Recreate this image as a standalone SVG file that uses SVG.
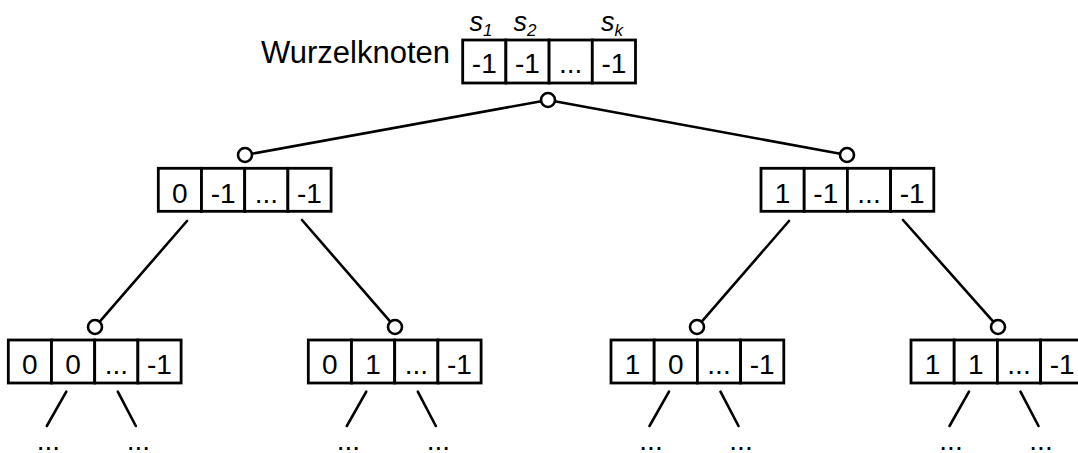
<svg xmlns="http://www.w3.org/2000/svg" width="1078" height="453" viewBox="0 0 1078 453">
  <style>
    .cell { fill: #ffffff; stroke: #000000; stroke-width: 2.8; }
    .val { font-family: "Liberation Sans", Arial, sans-serif; font-size: 28px; fill: #000000; text-anchor: middle; }
    .lbl { font-family: "Liberation Sans", Arial, sans-serif; font-size: 31px; fill: #000000; text-anchor: end; }
    .idx { font-family: "Liberation Sans", Arial, sans-serif; font-size: 27px; font-style: italic; fill: #000000; text-anchor: middle; }
    .sub { font-size: 17px; }
    .edge { stroke: #000000; stroke-width: 2.6; fill: none; stroke-linecap: round; }
    .knob { fill: #ffffff; stroke: #000000; stroke-width: 2.6; }
  </style>
  <defs>
    <!-- four-cell vector: width 172.8, height 43 -->
    <g id="vec">
      <rect class="cell" x="0" y="0" width="43.2" height="43"/>
      <rect class="cell" x="43.2" y="0" width="43.2" height="43"/>
      <rect class="cell" x="86.4" y="0" width="43.2" height="43"/>
      <rect class="cell" x="129.6" y="0" width="43.2" height="43"/>
    </g>
    <!-- two stubs leading further down with ellipses -->
    <g id="more">
      <line class="edge" x1="58" y1="391.7" x2="38.5" y2="426"/>
      <line class="edge" x1="109.5" y1="391.7" x2="127.5" y2="426"/>
      <text class="val" x="40" y="450">...</text>
      <text class="val" x="130" y="450">...</text>
    </g>
  </defs>

  <!-- connectors -->
  <g id="connectors">
    <line class="edge" x1="541.3" y1="101.2" x2="251.7" y2="153.8"/>
    <line class="edge" x1="554.7" y1="101.2" x2="840.3" y2="153.8"/>
    <line class="edge" x1="187" y1="221" x2="99.5" y2="321.9"/>
    <line class="edge" x1="302" y1="220" x2="390.5" y2="321.9"/>
    <line class="edge" x1="789" y1="221" x2="701.5" y2="321.9"/>
    <line class="edge" x1="903" y1="220" x2="993.5" y2="321.9"/>
    <use href="#more" x="8.3"/>
    <use href="#more" x="308.3"/>
    <use href="#more" x="611"/>
    <use href="#more" x="911"/>
  </g>

  <!-- root -->
  <g id="root">
    <text class="lbl" x="450" y="63">Wurzelknoten</text>
    <text class="idx" x="481" y="31">s<tspan class="sub" dy="5">1</tspan></text>
    <text class="idx" x="525" y="31">s<tspan class="sub" dy="5">2</tspan></text>
    <text class="idx" x="612" y="31">s<tspan class="sub" dy="5">k</tspan></text>
    <use href="#vec" x="462.7" y="40"/>
    <text class="val" x="484.3" y="73">-1</text>
    <text class="val" x="527.5" y="73">-1</text>
    <text class="val" x="570.7" y="73">...</text>
    <text class="val" x="613.9" y="73">-1</text>
    <circle class="knob" cx="548" cy="100" r="7"/>
  </g>

  <!-- level 1 -->
  <g id="n0">
    <circle class="knob" cx="245" cy="155" r="7"/>
    <use href="#vec" x="158.3" y="168.3"/>
    <text class="val" x="179.9" y="202.5">0</text>
    <text class="val" x="223.1" y="202.5">-1</text>
    <text class="val" x="266.3" y="202.5">...</text>
    <text class="val" x="309.5" y="202.5">-1</text>
  </g>
  <g id="n1">
    <circle class="knob" cx="847" cy="155" r="7"/>
    <use href="#vec" x="761" y="168.3"/>
    <text class="val" x="782.6" y="202.5">1</text>
    <text class="val" x="825.8" y="202.5">-1</text>
    <text class="val" x="869" y="202.5">...</text>
    <text class="val" x="912.2" y="202.5">-1</text>
  </g>

  <!-- level 2 -->
  <g id="n00">
    <circle class="knob" cx="95" cy="327" r="7"/>
    <use href="#vec" x="8.3" y="340"/>
    <text class="val" x="29.9" y="374">0</text>
    <text class="val" x="73.1" y="374">0</text>
    <text class="val" x="116.3" y="374">...</text>
    <text class="val" x="159.5" y="374">-1</text>
  </g>
  <g id="n01">
    <circle class="knob" cx="395" cy="327" r="7"/>
    <use href="#vec" x="308.3" y="340"/>
    <text class="val" x="329.9" y="374">0</text>
    <text class="val" x="373.1" y="374">1</text>
    <text class="val" x="416.3" y="374">...</text>
    <text class="val" x="459.5" y="374">-1</text>
  </g>
  <g id="n10">
    <circle class="knob" cx="697" cy="327" r="7"/>
    <use href="#vec" x="611" y="340"/>
    <text class="val" x="632.6" y="374">1</text>
    <text class="val" x="675.8" y="374">0</text>
    <text class="val" x="719" y="374">...</text>
    <text class="val" x="762.2" y="374">-1</text>
  </g>
  <g id="n11">
    <circle class="knob" cx="998" cy="327" r="7"/>
    <use href="#vec" x="911" y="340"/>
    <text class="val" x="932.6" y="374">1</text>
    <text class="val" x="975.8" y="374">1</text>
    <text class="val" x="1019" y="374">...</text>
    <text class="val" x="1062.2" y="374">-1</text>
  </g>
</svg>
